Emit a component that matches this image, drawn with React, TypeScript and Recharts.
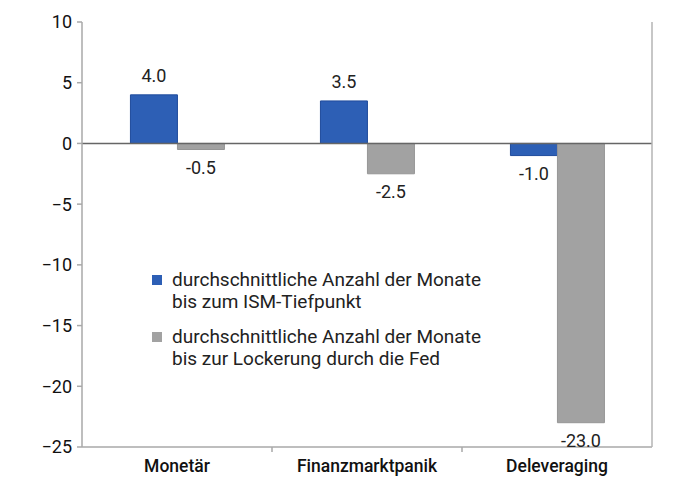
import React from "react";
import {
    BarChart,
    Bar,
    XAxis,
    YAxis,
    ReferenceLine,
    LabelList,
} from "recharts";

const categories = ["Monetär", "Finanzmarktpanik", "Deleveraging"];
const ismMonths = [4.0, 3.5, -1.0];
const fedMonths = [-0.5, -2.5, -23.0];
const yTicks = [10, 5, 0, -5, -10, -15, -20, -25];

const legendItems = [
    { color: "#2d5fb5", lines: ["durchschnittliche Anzahl der Monate", "bis zum ISM-Tiefpunkt"] },
    { color: "#a2a2a2", lines: ["durchschnittliche Anzahl der Monate", "bis zur Lockerung durch die Fed"] },
];

const chartData = categories.map((name, i) => ({
    name,
    ism: ismMonths[i],
    fed: fedMonths[i],
}));

const FONT = "Roboto, 'Noto Sans', sans-serif";
const AXIS_GREY = "#a8a8a8";

// value labels: above positive bars, below negative ones
function renderValueLabel(props: any) {
    const { x, y, width, height, value } = props;
    const top = Math.min(y, y + height);
    const bottom = Math.max(y, y + height);
    const ty = value >= 0 ? top - 19 : bottom + 18;
    return (
        <text
            x={x + width / 2}
            y={ty}
            textAnchor="middle"
            dominantBaseline="central"
            fill="#222"
            fontSize={18}
            fontFamily={FONT}
        >
            {Number(value).toFixed(1)}
        </text>
    );
}

// category label plus a small divider tick at the left edge of the band
function CategoryTick(props: any) {
    const { x, y, payload } = props;
    const edge = x - (payload.offset || 0);
    return (
        <g>
            {payload.index > 0 && (
                <line x1={edge} x2={edge} y1={y} y2={y + 5} stroke={AXIS_GREY} strokeWidth={1.5} />
            )}
            <text
                x={x}
                y={y + 19}
                textAnchor="middle"
                dominantBaseline="central"
                fill="#111"
                fontSize={17.5}
                fontWeight={500}
                fontFamily={FONT}
            >
                {payload.value}
            </text>
        </g>
    );
}

export default function App() {
    return (
        <div style={{ position: "absolute", left: 0, top: 0, width: 700, height: 489, background: "#fff" }}>
            <BarChart
                width={700}
                height={489}
                data={chartData}
                margin={{ top: 22, right: 47, left: 0, bottom: 0 }}
                barCategoryGap="25.5%"
                barGap={0}
            >
                <XAxis
                    dataKey="name"
                    height={42}
                    interval={0}
                    tickSize={0}
                    tickMargin={0}
                    tickLine={false}
                    axisLine={{ stroke: AXIS_GREY, strokeWidth: 1.5 }}
                    tick={<CategoryTick />}
                />
                <YAxis
                    domain={[-25, 10]}
                    ticks={yTicks}
                    width={82}
                    interval={0}
                    tickSize={5}
                    tickMargin={5}
                    tickFormatter={(v: number) => String(v).replace("-", "\u2212")}
                    tick={{ fill: "#111", fontSize: 18, fontFamily: FONT }}
                    axisLine={{ stroke: AXIS_GREY, strokeWidth: 1.5 }}
                    tickLine={{ stroke: AXIS_GREY, strokeWidth: 1.5 }}
                />
                <YAxis
                    yAxisId="right"
                    orientation="right"
                    domain={[-25, 10]}
                    width={1}
                    tick={() => <g />}
                    tickLine={false}
                    axisLine={{ stroke: "#b5b5b5", strokeWidth: 1.5 }}
                />
                <Bar
                    dataKey="ism"
                    fill="#2d5fb5"
                    stroke="#1f4b9c"
                    strokeWidth={1}
                    isAnimationActive={false}
                >
                    <LabelList dataKey="ism" content={renderValueLabel} />
                </Bar>
                <Bar
                    dataKey="fed"
                    fill="#a2a2a2"
                    stroke="#969696"
                    strokeWidth={1}
                    isAnimationActive={false}
                >
                    <LabelList dataKey="fed" content={renderValueLabel} />
                </Bar>
                <ReferenceLine y={0} stroke="#666" strokeWidth={1.5} />
            </BarChart>
            <div
                style={{
                    position: "absolute",
                    left: 152,
                    top: 269,
                    fontFamily: FONT,
                    fontSize: 19,
                    color: "#222",
                    lineHeight: "21.5px",
                }}
            >
                {legendItems.map((item, i) => (
                    <div key={i} style={{ display: "flex", marginBottom: i === 0 ? 14 : 0 }}>
                        <div
                            style={{
                                width: 10,
                                height: 10,
                                background: item.color,
                                marginTop: 6,
                                marginRight: 10,
                                flexShrink: 0,
                            }}
                        />
                        <div>
                            {item.lines.map((line, j) => (
                                <div key={j}>{line}</div>
                            ))}
                        </div>
                    </div>
                ))}
            </div>
        </div>
    );
}
